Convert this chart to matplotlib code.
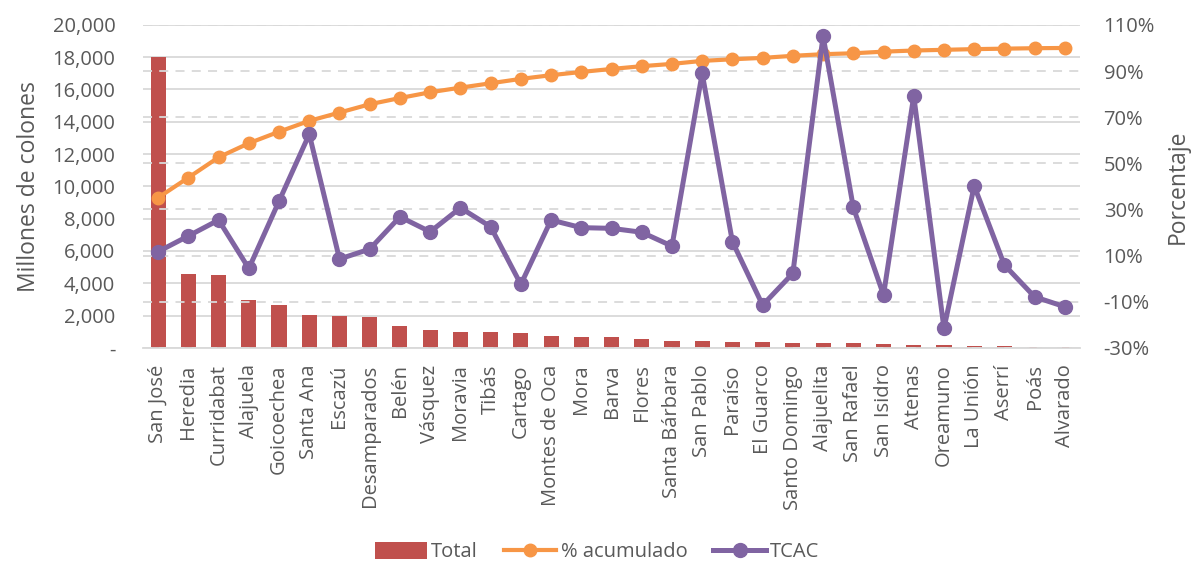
import numpy as np
import matplotlib
matplotlib.use("Agg")
import matplotlib.pyplot as plt
from matplotlib.ticker import FuncFormatter

plt.rcParams["font.family"] = ["Open Sans", "DejaVu Sans"]

cantones = [
    "San José", "Heredia", "Curridabat", "Alajuela", "Goicoechea", "Santa Ana",
    "Escazú", "Desamparados", "Belén", "Vásquez", "Moravia", "Tibás", "Cartago",
    "Montes de Oca", "Mora", "Barva", "Flores", "Santa Bárbara", "San Pablo",
    "Paraíso", "El Guarco", "Santo Domingo", "Alajuelita", "San Rafael",
    "San Isidro", "Atenas", "Oreamuno", "La Unión", "Aserrí", "Poás", "Alvarado",
]

# millones de colones
total = [
    18000, 4600, 4500, 2990, 2660, 2060, 1975, 1895, 1355, 1130, 1006, 1006, 944,
    733, 696, 652, 528, 447, 400, 380, 350, 310, 300, 290, 250, 190, 150, 125,
    100, 80, 40,
]

# % acumulado
acumulado = [
    35.1, 43.8, 52.6, 58.7, 63.7, 68.4, 72.0, 75.6, 78.3, 80.8, 82.8, 84.7, 86.6,
    88.2, 89.6, 90.9, 92.1, 93.1, 94.4, 95.1, 95.7, 96.6, 97.3, 97.7, 98.4, 98.9,
    99.2, 99.5, 99.7, 99.9, 100.0,
]

# TCAC (%)
tcac = [
    11.7, 18.5, 25.4, 4.4, 33.6, 62.6, 8.5, 12.8, 26.8, 20.3, 30.7, 22.5, -2.5,
    25.4, 22.1, 21.8, 20.1, 14.1, 89.0, 16.0, -11.5, 2.3, 105.2, 30.9, -7.1,
    79.2, -21.6, 40.2, 5.9, -7.9, -12.2,
]

c_bar = "#C0504D"
c_acum = "#F79646"
c_tcac = "#8064A2"
c_text = "#595959"
c_grid = "#D9D9D9"

x = np.arange(len(cantones))

fig = plt.figure(figsize=(11.94, 5.61), dpi=100)
ax = fig.add_axes([0.1198, 0.380, 0.7847, 0.5756])
ax2 = ax.twinx()

bars = ax.bar(x, total, width=0.5, color=c_bar, zorder=2, label="Total")

ax.set_xlim(-0.5, len(cantones) - 0.5)
ax.set_ylim(0, 20000)
ax.set_yticks(np.arange(0, 20001, 2000))
ax.yaxis.set_major_formatter(
    FuncFormatter(lambda v, p: "-" if v == 0 else f"{v:,.0f}")
)
ax.grid(axis="y", color=c_grid, linewidth=1.3, zorder=0)
ax.set_axisbelow(True)

ax2.set_ylim(-30, 110)
ax2.set_yticks(np.arange(-30, 111, 20))
ax2.yaxis.set_major_formatter(FuncFormatter(lambda v, p: f"{v:.0f}%"))
ax2.grid(axis="y", color=c_grid, linewidth=1.3, linestyle=(0, (5, 4)), zorder=0)

l1, = ax2.plot(x, acumulado, color=c_acum, lw=3, marker="o", ms=9,
               label="% acumulado", zorder=3)
l2, = ax2.plot(x, tcac, color=c_tcac, lw=3.6, marker="o", ms=10,
               label="TCAC", zorder=4)

ax.set_xticks(x)
ax.set_xticklabels(cantones, rotation=90, fontsize=14.5, color=c_text)
ax.tick_params(axis="x", length=0, pad=12)
ax.tick_params(axis="y", length=0, labelsize=14.5, labelcolor=c_text, pad=20)
ax2.tick_params(axis="y", length=0, labelsize=14.5, labelcolor=c_text, pad=17)

for a in (ax, ax2):
    for s in a.spines.values():
        s.set_visible(False)
ax.spines["bottom"].set_visible(True)
ax.spines["bottom"].set_color(c_grid)
ax.spines["bottom"].set_linewidth(1.3)

ax.set_ylabel("Millones de colones", fontsize=16.5, color=c_text, labelpad=8)
ax2.set_ylabel("Porcentaje", fontsize=16.5, color=c_text, labelpad=8)

fig.legend(handles=[bars, l1, l2], loc="center", ncol=3,
           bbox_to_anchor=(0.5, 0.016), frameon=False, fontsize=14.5,
           labelcolor=c_text, handlelength=2.6, handleheight=0.9,
           columnspacing=1.3, handletextpad=0.2)

fig.savefig("out.png", dpi=100)
